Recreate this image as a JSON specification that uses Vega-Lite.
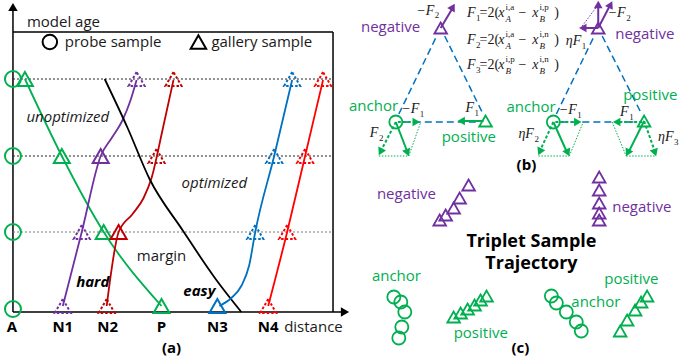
{
  "$schema": "https://vega.github.io/schema/vega-lite/v6.json",
  "width": 679,
  "height": 363,
  "autosize": {"type": "fit", "contains": "padding"},
  "padding": 0,
  "background": "white",
  "config": {"view": {"stroke": null}, "legend": {"disable": true}, "text": {"font": "Open Sans", "fontSize": 15}},
  "encoding": {
    "x": {"field": "x", "type": "quantitative", "scale": {"domain": [0, 679], "nice": false, "zero": false}, "axis": null},
    "y": {"field": "y", "type": "quantitative", "scale": {"domain": [0, 363], "nice": false, "zero": false, "reverse": true}, "axis": null}
  },
  "layer": [
    {
      "data": {"values": [
        {"x": 13, "y": 312, "x2": 13, "y2": 10},
        {"x": 13, "y": 312, "x2": 343, "y2": 312},
        {"x": 13, "y": 32, "x2": 334, "y2": 32},
        {"x": 334, "y": 32, "x2": 334, "y2": 312}
      ]},
      "mark": {"type": "rule", "color": "#000000", "strokeWidth": 1.5},
      "encoding": {"x2": {"field": "x2"}, "y2": {"field": "y2"}}
    },
    {
      "data": {"values": [{"x": 13, "y": 7, "a": 0}, {"x": 346, "y": 312, "a": 90}]},
      "mark": {"type": "point", "shape": "triangle-up", "filled": true, "color": "#000000", "size": 90, "opacity": 1},
      "encoding": {"angle": {"field": "a", "type": "quantitative", "scale": null}}
    },
    {
      "data": {"values": [
        {"x": 13, "y": 79, "x2": 334, "y2": 79},
        {"x": 13, "y": 156, "x2": 334, "y2": 156}
      ]},
      "mark": {"type": "rule", "color": "#222222", "strokeWidth": 1, "strokeDash": [2, 2]},
      "encoding": {"x2": {"field": "x2"}, "y2": {"field": "y2"}}
    },
    {
      "data": {"values": [
        {"x": 13, "y": 232, "x2": 334, "y2": 232}
      ]},
      "mark": {"type": "rule", "color": "#777777", "strokeWidth": 1, "strokeDash": [2, 2]},
      "encoding": {"x2": {"field": "x2"}, "y2": {"field": "y2"}}
    },
    {
      "data": {"values": [
        {"s": "P", "x": 25, "y": 79}, {"s": "P", "x": 62, "y": 156}, {"s": "P", "x": 104, "y": 232}, {"s": "P", "x": 162, "y": 306},
        {"s": "N1", "x": 63, "y": 306}, {"s": "N1", "x": 82, "y": 232}, {"s": "N1", "x": 101, "y": 156}, {"s": "N1", "x": 112, "y": 138}, {"s": "N1", "x": 123, "y": 120}, {"s": "N1", "x": 131, "y": 100}, {"s": "N1", "x": 137, "y": 80},
        {"s": "N2", "x": 107, "y": 306}, {"s": "N2", "x": 119, "y": 232}, {"s": "N2", "x": 133, "y": 214}, {"s": "N2", "x": 144, "y": 198}, {"s": "N2", "x": 152, "y": 178}, {"s": "N2", "x": 163, "y": 130}, {"s": "N2", "x": 174, "y": 80},
        {"s": "margin", "x": 105, "y": 79}, {"s": "margin", "x": 128, "y": 128}, {"s": "margin", "x": 150, "y": 179}, {"s": "margin", "x": 183, "y": 230}, {"s": "margin", "x": 217, "y": 280}, {"s": "margin", "x": 242, "y": 312},
        {"s": "N3", "x": 220, "y": 306}, {"s": "N3", "x": 232, "y": 298}, {"s": "N3", "x": 242, "y": 286}, {"s": "N3", "x": 250, "y": 265}, {"s": "N3", "x": 256, "y": 232}, {"s": "N3", "x": 275, "y": 156}, {"s": "N3", "x": 293, "y": 80},
        {"s": "N4", "x": 269, "y": 306}, {"s": "N4", "x": 288, "y": 232}, {"s": "N4", "x": 306, "y": 156}, {"s": "N4", "x": 324, "y": 80}
      ]},
      "mark": {"type": "line", "interpolate": "monotone", "strokeWidth": 1.8},
      "encoding": {
        "detail": {"field": "s"},
        "color": {"field": "s", "type": "nominal", "scale": {"domain": ["A", "P", "N1", "N2", "N3", "N4", "margin", "anchor", "positive", "negative", "link"], "range": ["#00B050", "#00B050", "#7030A0", "#C00000", "#0070C0", "#FF0000", "#000000", "#00B050", "#00B050", "#7030A0", "#0070C0"]}, "legend": null}
      }
    },
    {
      "data": {"values": [
        {"s": "P", "x": 25, "y": 79}, {"s": "P", "x": 62, "y": 156}, {"s": "P", "x": 104, "y": 232}, {"s": "P", "x": 162, "y": 306},
        {"s": "N1", "x": 101, "y": 156}, {"s": "N2", "x": 119, "y": 232}, {"s": "N3", "x": 218, "y": 306}
      ]},
      "mark": {"type": "point", "shape": "triangle-up", "filled": false, "size": 256, "strokeWidth": 2, "opacity": 1},
      "encoding": {
        "color": {"field": "s", "type": "nominal", "scale": {"domain": ["A", "P", "N1", "N2", "N3", "N4", "margin", "anchor", "positive", "negative", "link"], "range": ["#00B050", "#00B050", "#7030A0", "#C00000", "#0070C0", "#FF0000", "#000000", "#00B050", "#00B050", "#7030A0", "#0070C0"]}, "legend": null}
      }
    },
    {
      "data": {"values": [
        {"s": "N1", "x": 137, "y": 79}, {"s": "N1", "x": 82, "y": 232}, {"s": "N1", "x": 63, "y": 306},
        {"s": "N2", "x": 174, "y": 79}, {"s": "N2", "x": 157, "y": 156}, {"s": "N2", "x": 107, "y": 306},
        {"s": "N3", "x": 293, "y": 79}, {"s": "N3", "x": 275, "y": 156}, {"s": "N3", "x": 256, "y": 232},
        {"s": "N4", "x": 324, "y": 79}, {"s": "N4", "x": 306, "y": 156}, {"s": "N4", "x": 288, "y": 232}, {"s": "N4", "x": 269, "y": 306}
      ]},
      "mark": {"type": "point", "shape": "triangle-up", "filled": false, "size": 256, "strokeWidth": 2, "strokeDash": [2.5, 2], "opacity": 1},
      "encoding": {
        "color": {"field": "s", "type": "nominal", "scale": {"domain": ["A", "P", "N1", "N2", "N3", "N4", "margin", "anchor", "positive", "negative", "link"], "range": ["#00B050", "#00B050", "#7030A0", "#C00000", "#0070C0", "#FF0000", "#000000", "#00B050", "#00B050", "#7030A0", "#0070C0"]}, "legend": null}
      }
    },
    {
      "data": {"values": [{"x": 13, "y": 79}, {"x": 13, "y": 156}, {"x": 13, "y": 232}, {"x": 13, "y": 309}]},
      "mark": {"type": "point", "shape": "circle", "filled": false, "size": 256, "strokeWidth": 2, "color": "#00B050", "opacity": 1}
    },
    {
      "data": {"values": [{"x": 50, "y": 42}]},
      "mark": {"type": "point", "shape": "circle", "filled": false, "size": 210, "strokeWidth": 2, "color": "#000000", "opacity": 1}
    },
    {
      "data": {"values": [{"x": 199, "y": 42}]},
      "mark": {"type": "point", "shape": "triangle-up", "filled": false, "size": 240, "strokeWidth": 2, "color": "#000000", "opacity": 1}
    },
    {
      "data": {"values": [
        {"x": 27, "y": 22, "t": "model age"},
        {"x": 65, "y": 42, "t": "probe sample"},
        {"x": 212, "y": 42, "t": "gallery sample"},
        {"x": 285, "y": 327, "t": "distance"}
      ]},
      "mark": {"type": "text", "align": "left", "baseline": "middle", "color": "#1a1a1a"},
      "encoding": {"text": {"field": "t"}}
    },
    {
      "data": {"values": [{"x": 162, "y": 256, "t": "margin"}]},
      "mark": {"type": "text", "align": "center", "baseline": "middle", "color": "#1a1a1a"},
      "encoding": {"text": {"field": "t"}}
    },
    {
      "data": {"values": [{"x": 68, "y": 117, "t": "unoptimized"}, {"x": 215, "y": 183, "t": "optimized"}]},
      "mark": {"type": "text", "align": "center", "baseline": "middle", "fontStyle": "italic", "color": "#1a1a1a"},
      "encoding": {"text": {"field": "t"}}
    },
    {
      "data": {"values": [{"x": 93, "y": 282, "t": "hard"}, {"x": 200, "y": 291, "t": "easy"}]},
      "mark": {"type": "text", "align": "center", "baseline": "middle", "fontStyle": "italic", "fontWeight": "bold", "color": "#000000"},
      "encoding": {"text": {"field": "t"}}
    },
    {
      "data": {"values": [
        {"x": 12, "y": 327, "t": "A"}, {"x": 63, "y": 327, "t": "N1"}, {"x": 108, "y": 327, "t": "N2"},
        {"x": 162, "y": 327, "t": "P"}, {"x": 218, "y": 327, "t": "N3"}, {"x": 269, "y": 327, "t": "N4"},
        {"x": 172, "y": 348, "t": "(a)"}, {"x": 528, "y": 165, "t": "(b)"}, {"x": 522, "y": 348, "t": "(c)"}
      ]},
      "mark": {"type": "text", "align": "center", "baseline": "middle", "fontWeight": "bold", "color": "#000000"},
      "encoding": {"text": {"field": "t"}}
    },
    {
      "data": {"values": [
        {"x": 400, "y": 114, "x2": 438, "y2": 36}, {"x": 446, "y": 36, "x2": 484, "y2": 113}, {"x": 404, "y": 122, "x2": 480, "y2": 122},
        {"x": 558, "y": 114, "x2": 596, "y2": 36}, {"x": 604, "y": 36, "x2": 643, "y2": 113}, {"x": 562, "y": 122, "x2": 639, "y2": 122}
      ]},
      "mark": {"type": "rule", "color": "#0070C0", "strokeWidth": 1.5, "strokeDash": [7, 4]},
      "encoding": {"x2": {"field": "x2"}, "y2": {"field": "y2"}}
    },
    {
      "data": {"values": [
        {"s": "anchor", "x": 397, "y": 122, "x2": 409, "y2": 153},
        {"s": "positive", "x": 485, "y": 121, "x2": 462, "y2": 121},
        {"s": "negative", "x": 442, "y": 28, "x2": 454, "y2": 8},
        {"s": "anchor", "x": 555, "y": 122, "x2": 569, "y2": 153},
        {"s": "positive", "x": 646, "y": 121, "x2": 630, "y2": 153},
        {"s": "negative", "x": 600, "y": 28, "x2": 600, "y2": 5},
        {"s": "negative", "x": 600, "y": 28, "x2": 612, "y2": 5},
        {"s": "negative", "x": 600, "y": 28, "x2": 585, "y2": 28}
      ]},
      "mark": {"type": "rule", "strokeWidth": 2},
      "encoding": {
        "x2": {"field": "x2"}, "y2": {"field": "y2"},
        "color": {"field": "s", "type": "nominal", "scale": {"domain": ["A", "P", "N1", "N2", "N3", "N4", "margin", "anchor", "positive", "negative", "link"], "range": ["#00B050", "#00B050", "#7030A0", "#C00000", "#0070C0", "#FF0000", "#000000", "#00B050", "#00B050", "#7030A0", "#0070C0"]}, "legend": null}
      }
    },
    {
      "data": {"values": [
        {"s": "anchor", "x": 399, "y": 122, "x2": 417, "y2": 122},
        {"s": "anchor", "x": 397, "y": 122, "x2": 382, "y2": 151},
        {"s": "anchor", "x": 557, "y": 122, "x2": 579, "y2": 122},
        {"s": "anchor", "x": 555, "y": 122, "x2": 541, "y2": 152},
        {"s": "positive", "x": 644, "y": 122, "x2": 618, "y2": 122},
        {"s": "positive", "x": 646, "y": 121, "x2": 657, "y2": 152}
      ]},
      "mark": {"type": "rule", "strokeWidth": 2, "strokeDash": [3, 2]},
      "encoding": {
        "x2": {"field": "x2"}, "y2": {"field": "y2"},
        "color": {"field": "s", "type": "nominal", "scale": {"domain": ["A", "P", "N1", "N2", "N3", "N4", "margin", "anchor", "positive", "negative", "link"], "range": ["#00B050", "#00B050", "#7030A0", "#C00000", "#0070C0", "#FF0000", "#000000", "#00B050", "#00B050", "#7030A0", "#0070C0"]}, "legend": null}
      }
    },
    {
      "data": {"values": [
        {"s": "anchor", "x": 380, "y": 156, "x2": 410, "y2": 156},
        {"s": "anchor", "x": 410, "y": 156, "x2": 422, "y2": 122},
        {"s": "anchor", "x": 540, "y": 156, "x2": 571, "y2": 156},
        {"s": "anchor", "x": 571, "y": 156, "x2": 585, "y2": 122},
        {"s": "positive", "x": 628, "y": 156, "x2": 658, "y2": 156},
        {"s": "positive", "x": 614, "y": 122, "x2": 628, "y2": 156},
        {"s": "negative", "x": 584, "y": 26, "x2": 602, "y2": 2}
      ]},
      "mark": {"type": "rule", "strokeWidth": 1, "strokeDash": [1.5, 1.5]},
      "encoding": {
        "x2": {"field": "x2"}, "y2": {"field": "y2"},
        "color": {"field": "s", "type": "nominal", "scale": {"domain": ["A", "P", "N1", "N2", "N3", "N4", "margin", "anchor", "positive", "negative", "link"], "range": ["#00B050", "#00B050", "#7030A0", "#C00000", "#0070C0", "#FF0000", "#000000", "#00B050", "#00B050", "#7030A0", "#0070C0"]}, "legend": null}
      }
    },
    {
      "data": {"values": [
        {"s": "anchor", "x": 417.5, "y": 122, "a": 90},
        {"s": "anchor", "x": 381.6, "y": 151.9, "a": 207},
        {"s": "anchor", "x": 408.7, "y": 152.7, "a": 159},
        {"s": "positive", "x": 462.5, "y": 121, "a": 270},
        {"s": "negative", "x": 454.2, "y": 7, "a": 30},
        {"s": "anchor", "x": 579.5, "y": 122, "a": 90},
        {"s": "anchor", "x": 541.4, "y": 151.8, "a": 204},
        {"s": "anchor", "x": 569.5, "y": 152.8, "a": 155},
        {"s": "positive", "x": 618.5, "y": 122, "a": 270},
        {"s": "positive", "x": 629.6, "y": 152.9, "a": 207},
        {"s": "positive", "x": 656.9, "y": 152.7, "a": 161},
        {"s": "negative", "x": 600, "y": 4.5, "a": 0},
        {"s": "negative", "x": 612.4, "y": 4.5, "a": 27},
        {"s": "negative", "x": 584.5, "y": 28, "a": 270}
      ]},
      "mark": {"type": "point", "shape": "triangle-up", "filled": true, "size": 75, "opacity": 1},
      "encoding": {
        "angle": {"field": "a", "type": "quantitative", "scale": null},
        "color": {"field": "s", "type": "nominal", "scale": {"domain": ["A", "P", "N1", "N2", "N3", "N4", "margin", "anchor", "positive", "negative", "link"], "range": ["#00B050", "#00B050", "#7030A0", "#C00000", "#0070C0", "#FF0000", "#000000", "#00B050", "#00B050", "#7030A0", "#0070C0"]}, "legend": null}
      }
    },
    {
      "data": {"values": [
        {"s": "positive", "x": 487, "y": 121}, {"s": "positive", "x": 646, "y": 121},
        {"s": "negative", "x": 442, "y": 28}, {"s": "negative", "x": 600, "y": 28},
        {"s": "negative", "x": 470, "y": 185}, {"s": "negative", "x": 461, "y": 198}, {"s": "negative", "x": 455, "y": 208}, {"s": "negative", "x": 447, "y": 215}, {"s": "negative", "x": 441, "y": 220},
        {"s": "negative", "x": 601, "y": 177}, {"s": "negative", "x": 601, "y": 190}, {"s": "negative", "x": 601, "y": 203}, {"s": "negative", "x": 601, "y": 213}, {"s": "negative", "x": 601, "y": 220},
        {"s": "positive", "x": 455, "y": 317}, {"s": "positive", "x": 462, "y": 313}, {"s": "positive", "x": 469, "y": 309}, {"s": "positive", "x": 476, "y": 305}, {"s": "positive", "x": 482, "y": 300}, {"s": "positive", "x": 488, "y": 296},
        {"s": "positive", "x": 622, "y": 331}, {"s": "positive", "x": 629, "y": 320}, {"s": "positive", "x": 637, "y": 310}, {"s": "positive", "x": 643, "y": 302}, {"s": "positive", "x": 649, "y": 296}
      ]},
      "mark": {"type": "point", "shape": "triangle-up", "filled": false, "size": 160, "strokeWidth": 1.8, "opacity": 1},
      "encoding": {
        "color": {"field": "s", "type": "nominal", "scale": {"domain": ["A", "P", "N1", "N2", "N3", "N4", "margin", "anchor", "positive", "negative", "link"], "range": ["#00B050", "#00B050", "#7030A0", "#C00000", "#0070C0", "#FF0000", "#000000", "#00B050", "#00B050", "#7030A0", "#0070C0"]}, "legend": null}
      }
    },
    {
      "data": {"values": [
        {"x": 397, "y": 122}, {"x": 555, "y": 122},
        {"x": 395, "y": 297}, {"x": 402, "y": 302}, {"x": 406, "y": 312}, {"x": 403, "y": 327}, {"x": 400, "y": 338},
        {"x": 553, "y": 296}, {"x": 558, "y": 303}, {"x": 568, "y": 312}, {"x": 578, "y": 322}, {"x": 583, "y": 331}
      ]},
      "mark": {"type": "point", "shape": "circle", "filled": false, "size": 170, "strokeWidth": 1.8, "color": "#00B050", "opacity": 1}
    },
    {
      "data": {"values": [
        {"s": "negative", "x": 362, "y": 27, "t": "negative"},
        {"s": "anchor", "x": 350, "y": 106, "t": "anchor"},
        {"s": "positive", "x": 443, "y": 137, "t": "positive"},
        {"s": "negative", "x": 617, "y": 34, "t": "negative"},
        {"s": "positive", "x": 625, "y": 95, "t": "positive"},
        {"s": "anchor", "x": 508, "y": 107, "t": "anchor"},
        {"s": "negative", "x": 378, "y": 194, "t": "negative"},
        {"s": "negative", "x": 614, "y": 207, "t": "negative"},
        {"s": "anchor", "x": 373, "y": 276, "t": "anchor"},
        {"s": "positive", "x": 455, "y": 333, "t": "positive"},
        {"s": "anchor", "x": 573, "y": 302, "t": "anchor"},
        {"s": "positive", "x": 606, "y": 279, "t": "positive"}
      ]},
      "mark": {"type": "text", "align": "left", "baseline": "middle"},
      "encoding": {
        "text": {"field": "t"},
        "color": {"field": "s", "type": "nominal", "scale": {"domain": ["A", "P", "N1", "N2", "N3", "N4", "margin", "anchor", "positive", "negative", "link"], "range": ["#00B050", "#00B050", "#7030A0", "#C00000", "#0070C0", "#FF0000", "#000000", "#00B050", "#00B050", "#7030A0", "#0070C0"]}, "legend": null}
      }
    },
    {
      "data": {"values": [{"x": 533, "y": 242, "t": "Triplet Sample"}, {"x": 533, "y": 264, "t": "Trajectory"}]},
      "mark": {"type": "text", "align": "center", "baseline": "middle", "fontWeight": "bold", "fontSize": 18, "color": "#000000"},
      "encoding": {"text": {"field": "t"}}
    },
    {
      "data": {"values": [
        {"x": 477, "y": 13, "t": "F"}, {"x": 506, "y": 13, "t": "x"}, {"x": 540, "y": 13, "t": "x"},
        {"x": 477, "y": 40, "t": "F"}, {"x": 506, "y": 40, "t": "x"}, {"x": 540, "y": 40, "t": "x"}, {"x": 583, "y": 41, "t": "ηF"},
        {"x": 477, "y": 65, "t": "F"}, {"x": 506, "y": 65, "t": "x"}, {"x": 540, "y": 65, "t": "x"},
        {"x": 435.5, "y": 11, "t": "−F"}, {"x": 420.5, "y": 109, "t": "−F"}, {"x": 475.5, "y": 108, "t": "F"}, {"x": 379.5, "y": 133, "t": "F"},
        {"x": 627.5, "y": 13, "t": "−F"}, {"x": 578.5, "y": 110, "t": "−F"}, {"x": 630.5, "y": 112, "t": "F"},
        {"x": 535.5, "y": 134, "t": "ηF"}, {"x": 675.5, "y": 137, "t": "ηF"}
      ]},
      "mark": {"type": "text", "align": "right", "baseline": "middle", "font": "Liberation Serif", "fontStyle": "italic", "fontSize": 14, "color": "#1a1a1a"},
      "encoding": {"text": {"field": "t"}}
    },
    {
      "data": {"values": [
        {"x": 481, "y": 13, "t": "=2("}, {"x": 520, "y": 13, "t": "−"}, {"x": 556, "y": 13, "t": ")"},
        {"x": 481, "y": 40, "t": "=2("}, {"x": 520, "y": 40, "t": "−"}, {"x": 556, "y": 40, "t": ")"},
        {"x": 481, "y": 65, "t": "=2("}, {"x": 520, "y": 65, "t": "−"}, {"x": 556, "y": 65, "t": ")"}
      ]},
      "mark": {"type": "text", "align": "left", "baseline": "middle", "font": "Liberation Serif", "fontSize": 14, "color": "#1a1a1a"},
      "encoding": {"text": {"field": "t"}}
    },
    {
      "data": {"values": [
        {"x": 477.5, "y": 18, "t": "1"}, {"x": 477.5, "y": 45, "t": "2"}, {"x": 477.5, "y": 70, "t": "3"},
        {"x": 507, "y": 7, "t": "i,a"}, {"x": 541, "y": 7, "t": "i,p"},
        {"x": 507, "y": 34, "t": "i,a"}, {"x": 541, "y": 34, "t": "i,n"},
        {"x": 507, "y": 59, "t": "i,p"}, {"x": 541, "y": 59, "t": "i,n"},
        {"x": 583.5, "y": 46, "t": "1"},
        {"x": 436, "y": 15, "t": "2"}, {"x": 421, "y": 114, "t": "1"}, {"x": 476, "y": 113, "t": "1"}, {"x": 380, "y": 138, "t": "2"},
        {"x": 628, "y": 18, "t": "2"}, {"x": 579, "y": 115, "t": "1"}, {"x": 631, "y": 117, "t": "1"},
        {"x": 536, "y": 139, "t": "2"}, {"x": 676, "y": 142, "t": "3"}
      ]},
      "mark": {"type": "text", "align": "left", "baseline": "middle", "font": "Liberation Serif", "fontSize": 9, "color": "#1a1a1a"},
      "encoding": {"text": {"field": "t"}}
    },
    {
      "data": {"values": [
        {"x": 507, "y": 19, "t": "A"}, {"x": 541, "y": 19, "t": "B"},
        {"x": 507, "y": 46, "t": "A"}, {"x": 541, "y": 46, "t": "B"},
        {"x": 507, "y": 71, "t": "B"}, {"x": 541, "y": 71, "t": "B"}
      ]},
      "mark": {"type": "text", "align": "left", "baseline": "middle", "font": "Liberation Serif", "fontStyle": "italic", "fontSize": 9, "color": "#1a1a1a"},
      "encoding": {"text": {"field": "t"}}
    }
  ]
}
